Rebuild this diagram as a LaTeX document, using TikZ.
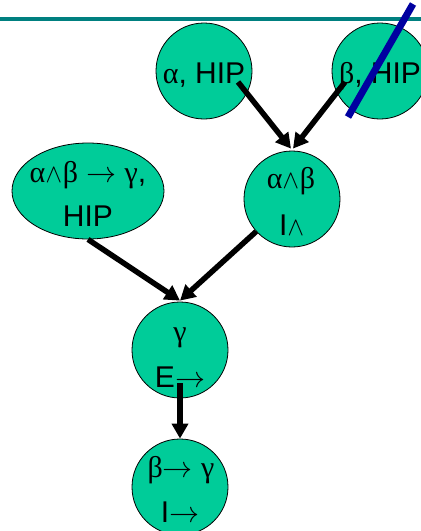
\documentclass[tikz,border=0pt]{standalone}
\usepackage{fontspec}
\setmainfont{Liberation Sans}
\newfontfamily\gk{Liberation Serif}
\newfontfamily\lmm{latinmodern-math.otf}
\usetikzlibrary{arrows.meta,shapes.geometric}
\definecolor{nodegreen}{RGB}{0,204,153}
\definecolor{rulecol}{RGB}{0,128,128}
\definecolor{slashcol}{RGB}{0,0,160}
\newcommand{\Ga}{{\gk α}}
\newcommand{\Gb}{{\gk β}}
\newcommand{\Gg}{{\gk γ}}
\newcommand{\Wg}{{\lmm\fontsize{26}{26}\selectfont ∧}}
\newcommand{\Ar}{{\lmm →}}
\tikzset{
  bubble/.style={circle, draw=black, line width=0.8pt, fill=nodegreen, minimum size=96pt, inner sep=0pt},
  oval/.style={ellipse, draw=black, line width=0.8pt, fill=nodegreen, minimum width=152pt, minimum height=96pt, inner sep=0pt},
  txt/.style={anchor=base, inner sep=0pt, font=\fontsize{30}{36}\selectfont},
  arr/.style={line width=5.5pt, -{Triangle[length=15pt,width=16pt]}},
}
\begin{document}
\begin{tikzpicture}[x=1pt,y=-1pt]
\useasboundingbox (0,0) rectangle (421,531);
\fill[white] (0,0) rectangle (421,531);
\draw[rulecol, line width=4pt] (0,19) -- (421,19);
% nodes
\node[bubble] (a) at (204,71) {};
\node[bubble] (b) at (380,71) {};
\node[oval] (e) at (88,191) {};
\node[bubble] (c) at (292,199) {};
\node[bubble] (g) at (180,350) {};
\node[bubble] (h) at (180,487) {};
% texts
\node[txt] (ta) at (204,83) {\Ga, HIP};
\node[txt] (tb) at (380,83) {\Gb, HIP};
\node[txt] (te1) at (88,182) {\Ga\Wg\Gb\ \Ar\ \Gg,};
\node[txt] (te2) at (88,226) {HIP};
\node[txt] (tc1) at (291,188) {\Ga\Wg\Gb};
\node[txt] (tc2) at (292,235) {I\Wg};
\node[txt] (tg1) at (180,341) {\Gg};
\node[txt] (tg2) at (180,387) {E\Ar};
\node[txt] (th1) at (181,477) {\Gb\Ar\ \Gg};
\node[txt] (th2) at (180,522) {I\Ar};
% connectors
\draw[arr] ([shift={(34,11)}]a.center) -- ([xshift=-1pt,yshift=2pt]c.north);
\draw[arr] ([shift={(-35,11)}]b.center) -- ([xshift=1pt,yshift=2pt]c.north);
\draw[arr] (e.south) -- ([yshift=1pt]g.north);
\draw[arr] (c) -- ([yshift=1pt]g.north);
\draw[arr] ([yshift=-33pt]g.center) -- (h.north);
% strike-out
\draw[slashcol, line width=7pt] (413,4) -- (348,117);
\end{tikzpicture}
\end{document}
